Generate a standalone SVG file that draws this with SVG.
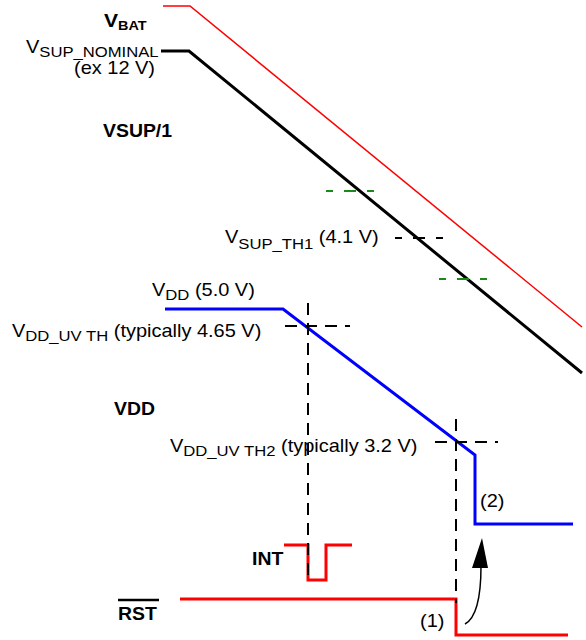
<svg xmlns="http://www.w3.org/2000/svg" width="586" height="640" viewBox="0 0 586 640">
<style>
text{font-family:"Liberation Sans",Arial,sans-serif;fill:#000}
.r{font-size:18px}
.s{font-size:15px}
.b{font-size:17.5px;font-weight:bold}
.sig{fill:none;stroke-linejoin:miter}
.dash{fill:none;stroke:#000;stroke-width:2;stroke-dasharray:12 8}
.tick{fill:none;stroke-width:2;stroke-dasharray:7 11 12 11}
</style>
<rect width="586" height="640" fill="#fff"/>
<g id="vbat">
<polyline class="sig" points="163,6 190,6 582,327" stroke="#f00" stroke-width="1.5"/>
<text class="b" transform="translate(104,27) scale(1.11,1)"><tspan font-size="19">V</tspan><tspan font-size="13" dy="3">BAT</tspan></text>
</g>
<g id="vsup">
<polyline class="sig" points="161,51 189,51 582,373" stroke="#000" stroke-width="3"/>
<text class="r" transform="translate(26,53) scale(1.11,1)">V<tspan class="s" dy="4">SUP_NOMINAL</tspan></text>
<text class="r" text-anchor="end" transform="translate(155,74) scale(1.11,1)">(ex 12 V)</text>
<text class="b" transform="translate(103,137) scale(1.11,1)">VSUP/1</text>
<line class="tick" x1="326" y1="191" x2="374" y2="191" stroke="#1a8a1a"/>
<line class="tick" x1="439" y1="279" x2="487" y2="279" stroke="#1a8a1a"/>
<line class="tick" x1="395" y1="238" x2="443" y2="238" stroke="#000"/>
<text class="r" transform="translate(225,243) scale(1.11,1)">V<tspan class="s" dy="6">SUP_TH1</tspan><tspan dy="-6"> (4.1 V)</tspan></text>
</g>
<g id="vdd">
<polyline class="sig" points="165,309 283,309 475,455 475,524 573,524" stroke="#00f" stroke-width="3"/>
<text class="r" transform="translate(152,296) scale(1.11,1)">V<tspan class="s" dy="4">DD</tspan><tspan dy="-4"> (5.0 V)</tspan></text>
<text class="r" transform="translate(12,337) scale(1.11,1)">V<tspan class="s" dy="4">DD_UV TH</tspan><tspan dy="-4"> (typically 4.65 V)</tspan></text>
<text class="r" transform="translate(170,452) scale(1.11,1)">V<tspan class="s" dy="4">DD_UV TH2</tspan><tspan dy="-4"> (typically 3.2 V)</tspan></text>
<text class="b" transform="translate(114,415) scale(1.11,1)">VDD</text>
<text class="r" transform="translate(480,507) scale(1.11,1)">(2)</text>
</g>
<g id="int">
<polyline class="sig" points="284,545 308,545 308,580 326,580 326,545 352,545" stroke="#f00" stroke-width="3"/>
<text class="b" transform="translate(252,565) scale(1.11,1)">INT</text>
</g>
<g id="rst">
<polyline class="sig" points="180,599 456,599 456,635 568,635" stroke="#f00" stroke-width="3"/>
<line x1="118" y1="600" x2="159" y2="600" stroke="#000" stroke-width="2.5"/>
<text class="b" transform="translate(118,620) scale(1.11,1)">RST</text>
<text class="r" transform="translate(420,627) scale(1.11,1)">(1)</text>
</g>
<g id="connectors">
<line class="dash" x1="308" y1="303" x2="308" y2="575"/>
<line class="dash" x1="456" y1="419" x2="456" y2="603"/>
<line class="dash" x1="285" y1="326" x2="350" y2="326"/>
<line class="dash" x1="435" y1="442" x2="498" y2="442"/>
<path d="M465,624 C476,618 481,600 481,566" fill="none" stroke="#000" stroke-width="1.5"/>
<polygon points="472,568 488,568 482,538" fill="#000"/>
</g>
</svg>
